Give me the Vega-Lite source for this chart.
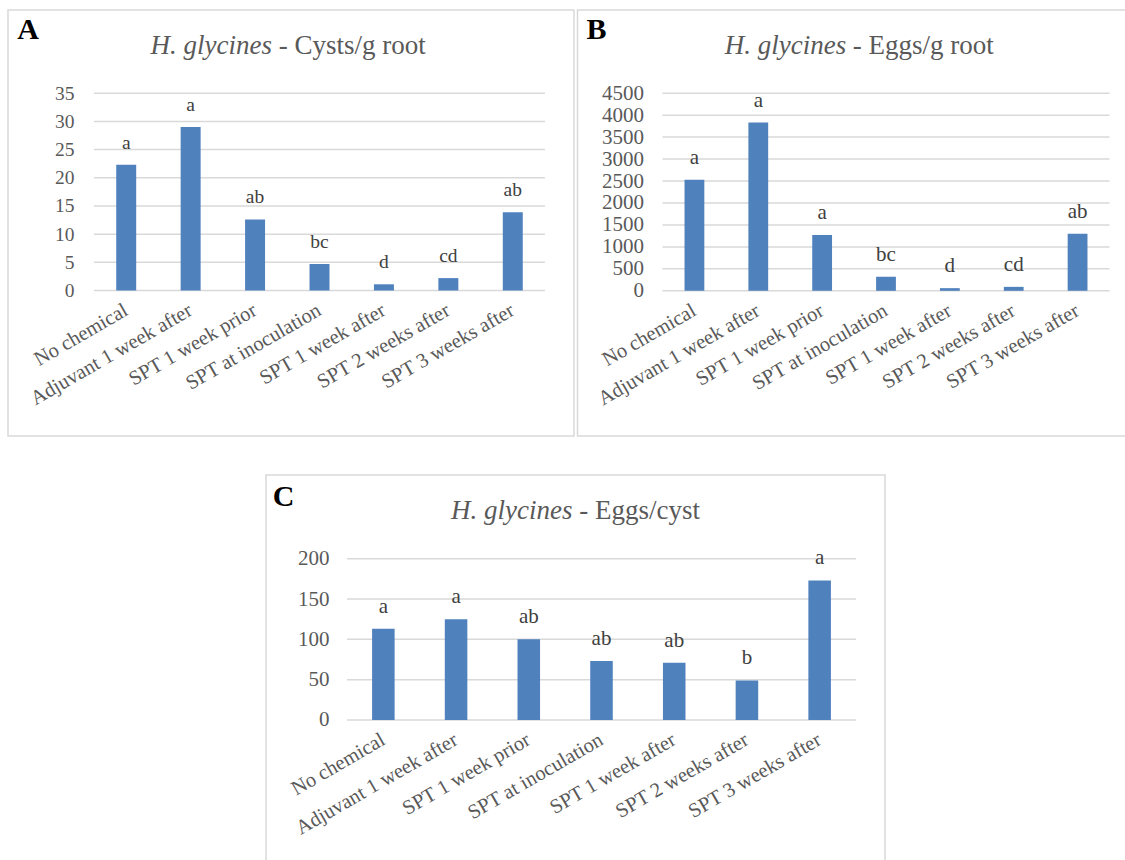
{
  "$schema": "https://vega.github.io/schema/vega-lite/v6.json",
  "background": "white",
  "padding": {"left": 7, "top": 9, "right": -17, "bottom": -8},
  "spacing": 37,
  "config": {"view": {"stroke": "#d9d9d9", "strokeWidth": 1.5}, "font": "Liberation Serif"},
  "datasets": {
    "cysts": [
      {"treatment": "No chemical", "value": 22.3, "group": "a"},
      {"treatment": "Adjuvant 1 week after", "value": 29.0, "group": "a"},
      {"treatment": "SPT 1 week prior", "value": 12.6, "group": "ab"},
      {"treatment": "SPT at inoculation", "value": 4.7, "group": "bc"},
      {"treatment": "SPT 1 week after", "value": 1.1, "group": "d"},
      {"treatment": "SPT 2 weeks after", "value": 2.2, "group": "cd"},
      {"treatment": "SPT 3 weeks after", "value": 13.9, "group": "ab"}
    ],
    "eggsRoot": [
      {"treatment": "No chemical", "value": 2530, "group": "a"},
      {"treatment": "Adjuvant 1 week after", "value": 3830, "group": "a"},
      {"treatment": "SPT 1 week prior", "value": 1270, "group": "a"},
      {"treatment": "SPT at inoculation", "value": 320, "group": "bc"},
      {"treatment": "SPT 1 week after", "value": 60, "group": "d"},
      {"treatment": "SPT 2 weeks after", "value": 90, "group": "cd"},
      {"treatment": "SPT 3 weeks after", "value": 1300, "group": "ab"}
    ],
    "eggsCyst": [
      {"treatment": "No chemical", "value": 113, "group": "a"},
      {"treatment": "Adjuvant 1 week after", "value": 125, "group": "a"},
      {"treatment": "SPT 1 week prior", "value": 100, "group": "ab"},
      {"treatment": "SPT at inoculation", "value": 73, "group": "ab"},
      {"treatment": "SPT 1 week after", "value": 71, "group": "ab"},
      {"treatment": "SPT 2 weeks after", "value": 49, "group": "b"},
      {"treatment": "SPT 3 weeks after", "value": 173, "group": "a"}
    ],
    "gridA": [{"v": 0}, {"v": 5}, {"v": 10}, {"v": 15}, {"v": 20}, {"v": 25}, {"v": 30}, {"v": 35}],
    "gridB": [{"v": 0}, {"v": 500}, {"v": 1000}, {"v": 1500}, {"v": 2000}, {"v": 2500}, {"v": 3000}, {"v": 3500}, {"v": 4000}, {"v": 4500}],
    "gridC": [{"v": 0}, {"v": 50}, {"v": 100}, {"v": 150}, {"v": 200}]
  },
  "vconcat": [
    {
      "spacing": 1.5,
      "hconcat": [
        {
          "width": 566,
          "height": 426,
          "layer": [
            {
              "data": {"name": "gridA"},
              "mark": {"type": "rule", "color": "#d9d9d9", "strokeWidth": 1.5},
              "encoding": {
                "x": {"datum": "No chemical", "type": "nominal", "bandPosition": -1.1129, "scale": {"domain": ["No chemical", "Adjuvant 1 week after", "SPT 1 week prior", "SPT at inoculation", "SPT 1 week after", "SPT 2 weeks after", "SPT 3 weeks after"], "range": [86, 537], "paddingInner": 0.69, "paddingOuter": 0.345}},
                "x2": {"datum": "SPT 3 weeks after", "bandPosition": 2.1129},
                "y": {"field": "v", "type": "quantitative", "scale": {"domain": [-25.81, 49.76], "nice": false}}
              }
            },
            {
              "data": {"name": "cysts"},
              "mark": {"type": "bar", "color": "#4F81BD"},
              "encoding": {
                "x": {"field": "treatment", "type": "nominal", "scale": {"domain": ["No chemical", "Adjuvant 1 week after", "SPT 1 week prior", "SPT at inoculation", "SPT 1 week after", "SPT 2 weeks after", "SPT 3 weeks after"], "range": [86, 537], "paddingInner": 0.69, "paddingOuter": 0.345},
                  "axis": {"orient": "bottom", "offset": -145.5, "labelAngle": -30, "labelPadding": 18, "ticks": false, "tickSize": 0, "domain": false, "grid": false, "title": null, "labelFont": "Liberation Serif", "labelFontSize": 20.5, "labelColor": "#595959", "labelLimit": 400, "labelOverlap": false, "labelBound": false}},
                "y": {"field": "value", "type": "quantitative", "scale": {"domain": [-25.81, 49.76], "nice": false},
                  "axis": {"values": [0, 5, 10, 15, 20, 25, 30, 35], "format": "d", "offset": -86, "labelPadding": 20, "ticks": false, "tickSize": 0, "domain": false, "grid": false, "title": null, "labelFont": "Liberation Serif", "labelFontSize": 19.5, "labelColor": "#595959"}}
              }
            },
            {
              "data": {"name": "cysts"},
              "mark": {"type": "text", "font": "Liberation Serif", "fontSize": 19.5, "color": "#404040", "baseline": "alphabetic", "dy": -16},
              "encoding": {
                "x": {"field": "treatment", "type": "nominal"},
                "y": {"field": "value", "type": "quantitative"},
                "text": {"field": "group"}
              }
            },
            {
              "data": {"values": [{}]},
              "mark": {"type": "text", "text": "H. glycines", "font": "Liberation Serif", "fontStyle": "italic", "fontSize": 27, "color": "#595959", "align": "right", "baseline": "alphabetic", "dx": 17},
              "encoding": {
                "x": {"datum": "SPT 1 week prior", "type": "nominal"},
                "y": {"datum": 41.95, "type": "quantitative"}
              }
            },
            {
              "data": {"values": [{}]},
              "mark": {"type": "text", "text": "- Cysts/g root", "font": "Liberation Serif", "fontSize": 27, "color": "#595959", "align": "left", "baseline": "alphabetic", "dx": 23.6},
              "encoding": {
                "x": {"datum": "SPT 1 week prior", "type": "nominal"},
                "y": {"datum": 41.95, "type": "quantitative"}
              }
            },
            {
              "data": {"values": [{}]},
              "mark": {"type": "text", "text": "A", "font": "Liberation Serif", "fontWeight": "bold", "fontSize": 30, "color": "#000000", "align": "left", "baseline": "alphabetic", "dx": -109},
              "encoding": {
                "x": {"datum": "No chemical", "type": "nominal"},
                "y": {"datum": 44.65, "type": "quantitative"}
              }
            }
          ]
        },
        {
          "width": 564,
          "height": 426,
          "layer": [
            {
              "data": {"name": "gridB"},
              "mark": {"type": "rule", "color": "#d9d9d9", "strokeWidth": 1.5},
              "encoding": {
                "x": {"datum": "No chemical", "type": "nominal", "bandPosition": -1.1129, "scale": {"domain": ["No chemical", "Adjuvant 1 week after", "SPT 1 week prior", "SPT at inoculation", "SPT 1 week after", "SPT 2 weeks after", "SPT 3 weeks after"], "range": [85, 532], "paddingInner": 0.69, "paddingOuter": 0.345}},
                "x2": {"datum": "SPT 3 weeks after", "bandPosition": 2.1129},
                "y": {"field": "v", "type": "quantitative", "scale": {"domain": [-3306.7, 6394.7], "nice": false}}
              }
            },
            {
              "data": {"name": "eggsRoot"},
              "mark": {"type": "bar", "color": "#4F81BD"},
              "encoding": {
                "x": {"field": "treatment", "type": "nominal", "scale": {"domain": ["No chemical", "Adjuvant 1 week after", "SPT 1 week prior", "SPT at inoculation", "SPT 1 week after", "SPT 2 weeks after", "SPT 3 weeks after"], "range": [85, 532], "paddingInner": 0.69, "paddingOuter": 0.345},
                  "axis": {"orient": "bottom", "offset": -145.2, "labelAngle": -30, "labelPadding": 18, "ticks": false, "tickSize": 0, "domain": false, "grid": false, "title": null, "labelFont": "Liberation Serif", "labelFontSize": 20.5, "labelColor": "#595959", "labelLimit": 400, "labelOverlap": false, "labelBound": false}},
                "y": {"field": "value", "type": "quantitative", "scale": {"domain": [-3306.7, 6394.7], "nice": false},
                  "axis": {"values": [0, 500, 1000, 1500, 2000, 2500, 3000, 3500, 4000, 4500], "format": "d", "offset": -85, "labelPadding": 19, "ticks": false, "tickSize": 0, "domain": false, "grid": false, "title": null, "labelFont": "Liberation Serif", "labelFontSize": 21, "labelColor": "#595959"}}
              }
            },
            {
              "data": {"name": "eggsRoot"},
              "mark": {"type": "text", "font": "Liberation Serif", "fontSize": 21, "color": "#404040", "baseline": "alphabetic", "dy": -16},
              "encoding": {
                "x": {"field": "treatment", "type": "nominal"},
                "y": {"field": "value", "type": "quantitative"},
                "text": {"field": "group"}
              }
            },
            {
              "data": {"values": [{}]},
              "mark": {"type": "text", "text": "H. glycines", "font": "Liberation Serif", "fontStyle": "italic", "fontSize": 27, "color": "#595959", "align": "right", "baseline": "alphabetic", "dx": 24},
              "encoding": {
                "x": {"datum": "SPT 1 week prior", "type": "nominal"},
                "y": {"datum": 5392.7, "type": "quantitative"}
              }
            },
            {
              "data": {"values": [{}]},
              "mark": {"type": "text", "text": "- Eggs/g root", "font": "Liberation Serif", "fontSize": 27, "color": "#595959", "align": "left", "baseline": "alphabetic", "dx": 30.6},
              "encoding": {
                "x": {"datum": "SPT 1 week prior", "type": "nominal"},
                "y": {"datum": 5392.7, "type": "quantitative"}
              }
            },
            {
              "data": {"values": [{}]},
              "mark": {"type": "text", "text": "B", "font": "Liberation Serif", "fontWeight": "bold", "fontSize": 30, "color": "#000000", "align": "left", "baseline": "alphabetic", "dx": -107.9},
              "encoding": {
                "x": {"datum": "No chemical", "type": "nominal"},
                "y": {"datum": 5739, "type": "quantitative"}
              }
            }
          ]
        }
      ]
    },
    {
      "spacing": 10,
      "hconcat": [
        {
          "width": 247,
          "height": 10,
          "view": {"stroke": null},
          "data": {"values": []},
          "mark": "point"
        },
        {
          "width": 619,
          "height": 392,
          "layer": [
            {
              "data": {"name": "gridC"},
              "mark": {"type": "rule", "color": "#d9d9d9", "strokeWidth": 1.5},
              "encoding": {
                "x": {"datum": "No chemical", "type": "nominal", "bandPosition": -1.1129, "scale": {"domain": ["No chemical", "Adjuvant 1 week after", "SPT 1 week prior", "SPT at inoculation", "SPT 1 week after", "SPT 2 weeks after", "SPT 3 weeks after"], "range": [81, 590], "paddingInner": 0.69, "paddingOuter": 0.345}},
                "x2": {"datum": "SPT 3 weeks after", "bandPosition": 2.1129},
                "y": {"field": "v", "type": "quantitative", "scale": {"domain": [-182.3, 303.8], "nice": false}}
              }
            },
            {
              "data": {"name": "eggsCyst"},
              "mark": {"type": "bar", "color": "#4F81BD"},
              "encoding": {
                "x": {"field": "treatment", "type": "nominal", "scale": {"domain": ["No chemical", "Adjuvant 1 week after", "SPT 1 week prior", "SPT at inoculation", "SPT 1 week after", "SPT 2 weeks after", "SPT 3 weeks after"], "range": [81, 590], "paddingInner": 0.69, "paddingOuter": 0.345},
                  "axis": {"orient": "bottom", "offset": -147, "labelAngle": -30, "labelPadding": 18, "ticks": false, "tickSize": 0, "domain": false, "grid": false, "title": null, "labelFont": "Liberation Serif", "labelFontSize": 20.5, "labelColor": "#595959", "labelLimit": 400, "labelOverlap": false, "labelBound": false}},
                "y": {"field": "value", "type": "quantitative", "scale": {"domain": [-182.3, 303.8], "nice": false},
                  "axis": {"values": [0, 50, 100, 150, 200], "format": "d", "offset": -81, "labelPadding": 18, "ticks": false, "tickSize": 0, "domain": false, "grid": false, "title": null, "labelFont": "Liberation Serif", "labelFontSize": 21, "labelColor": "#595959"}}
              }
            },
            {
              "data": {"name": "eggsCyst"},
              "mark": {"type": "text", "font": "Liberation Serif", "fontSize": 21, "color": "#404040", "baseline": "alphabetic", "dy": -16},
              "encoding": {
                "x": {"field": "treatment", "type": "nominal"},
                "y": {"field": "value", "type": "quantitative"},
                "text": {"field": "group"}
              }
            },
            {
              "data": {"values": [{}]},
              "mark": {"type": "text", "text": "H. glycines", "font": "Liberation Serif", "fontStyle": "italic", "fontSize": 27, "color": "#595959", "align": "right", "baseline": "alphabetic", "dx": -29},
              "encoding": {
                "x": {"datum": "SPT at inoculation", "type": "nominal"},
                "y": {"datum": 249.2, "type": "quantitative"}
              }
            },
            {
              "data": {"values": [{}]},
              "mark": {"type": "text", "text": "- Eggs/cyst", "font": "Liberation Serif", "fontSize": 27, "color": "#595959", "align": "left", "baseline": "alphabetic", "dx": -22.25},
              "encoding": {
                "x": {"datum": "SPT at inoculation", "type": "nominal"},
                "y": {"datum": 249.2, "type": "quantitative"}
              }
            },
            {
              "data": {"values": [{}]},
              "mark": {"type": "text", "text": "C", "font": "Liberation Serif", "fontWeight": "bold", "fontSize": 30, "color": "#000000", "align": "left", "baseline": "alphabetic", "dx": -110.6},
              "encoding": {
                "x": {"datum": "No chemical", "type": "nominal"},
                "y": {"datum": 265.7, "type": "quantitative"}
              }
            }
          ]
        }
      ]
    }
  ]
}
